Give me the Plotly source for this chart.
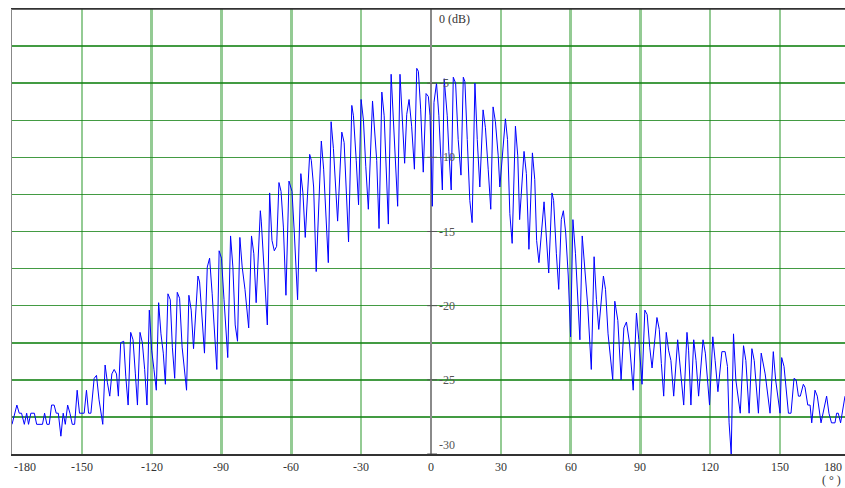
import plotly.graph_objects as go

# Angle (deg) and level (dB) (vertices)
angles = [
    -180.0, -177.9, -176.9, -175.9, -174.7, -173.7, -172.9, -171.9, -170.4, -169.4,
    -166.9, -166.0, -165.0, -164.0, -163.0, -161.9, -161.0, -160.1, -159.0, -158.0,
    -157.1, -156.1, -155.1, -154.1, -153.1, -152.0, -151.0, -149.0, -148.0, -147.1,
    -146.1, -144.7, -143.7, -142.6, -141.0, -140.0, -139.0, -138.0, -137.1, -136.1,
    -135.1, -134.3, -133.3, -132.0, -131.1, -130.1, -129.0, -128.0, -127.0, -126.1,
    -125.0, -124.0, -123.0, -122.0, -121.0, -120.0, -119.0, -118.0, -117.0, -116.0,
    -115.0, -114.1, -113.0, -112.0, -111.1, -110.1, -109.0, -108.0, -106.9, -105.0,
    -104.0, -103.0, -102.0, -100.1, -99.4, -98.3, -97.3, -96.1, -95.1, -94.0,
    -92.0, -91.0, -90.0, -88.9, -87.3, -86.1, -85.1, -84.1, -83.1, -82.1,
    -81.1, -79.9, -78.3, -77.1, -76.1, -75.1, -73.3, -72.9, -71.9, -70.3,
    -69.3, -68.3, -67.3, -66.3, -65.3, -64.4, -63.4, -62.3, -61.0, -59.7,
    -58.7, -57.3, -55.9, -55.0, -54.0, -52.1, -51.4, -50.4, -49.3, -47.1,
    -46.1, -45.1, -44.1, -42.9, -41.9, -40.1, -38.3, -37.3, -35.4, -34.0,
    -33.3, -32.1, -31.1, -30.0, -29.0, -28.0, -26.9, -25.1, -24.3, -23.3,
    -22.3, -21.1, -20.1, -19.3, -18.3, -17.1, -16.1, -15.1, -14.3, -13.3,
    -12.3, -11.3, -10.4, -9.4, -8.3, -7.1, -6.1, -5.4, -4.4, -3.3,
    -2.1, -1.1, -0.4, 0.6, 1.3, 2.4, 3.4, 4.9, 5.7, 7.0,
    7.7, 8.7, 9.6, 10.6, 11.7, 12.9, 13.9, 14.6, 15.6, 16.7,
    17.7, 18.9, 19.9, 21.0, 22.4, 23.4, 24.6, 25.7, 26.7, 27.7,
    28.9, 29.6, 32.0, 32.9, 33.9, 34.9, 36.3, 37.3, 38.1, 40.0,
    41.0, 42.1, 43.6, 44.6, 45.4, 46.4, 48.6, 49.6, 50.6, 52.0,
    52.7, 53.9, 54.9, 56.0, 56.9, 57.9, 59.0, 60.0, 61.0, 62.1,
    63.3, 64.0, 65.0, 66.1, 67.4, 68.9, 70.1, 71.1, 72.1, 74.1,
    75.0, 76.1, 78.1, 79.0, 80.3, 81.7, 82.9, 84.0, 85.3, 86.9,
    88.3, 89.3, 90.7, 91.9, 92.9, 94.0, 95.0, 97.1, 98.1, 99.0,
    100.0, 101.1, 102.1, 103.1, 104.3, 106.0, 107.1, 108.6, 110.0, 110.7,
    111.7, 112.9, 113.9, 115.0, 116.9, 117.9, 119.7, 121.1, 122.1, 123.3,
    125.0, 126.4, 127.4, 128.1, 129.0, 130.0, 131.0, 132.9, 134.3, 135.3,
    136.7, 137.9, 138.9, 140.7, 141.9, 143.6, 145.7, 147.1, 148.1, 150.0,
    150.7, 151.7, 153.6, 154.7, 156.0, 156.9, 157.9, 158.7, 160.0, 160.7,
    161.9, 162.9, 163.6, 165.0, 166.0, 167.6, 170.0, 171.0, 172.1, 173.6,
    174.3, 175.0, 176.0, 177.1, 177.9,
]
levels_db = [
    -28.0, -26.7, -27.25, -27.25, -28.0, -27.25, -28.0, -27.25, -27.25, -28.0,
    -28.0, -27.25, -28.0, -28.0, -26.7, -26.7, -27.25, -27.25, -28.8, -27.25,
    -28.0, -26.7, -27.25, -28.0, -28.0, -25.7, -27.25, -27.25, -25.7, -27.25,
    -27.25, -24.9, -24.7, -26.35, -28.0, -24.0, -25.2, -26.1, -24.6, -24.3,
    -24.6, -26.1, -22.5, -22.4, -24.8, -26.7, -21.8, -22.3, -24.6, -26.7,
    -21.8, -22.5, -24.3, -26.7, -20.3, -23.0, -24.3, -25.7, -19.8, -21.9,
    -23.2, -25.3, -19.2, -19.6, -22.8, -24.9, -19.1, -19.5, -22.8, -25.7,
    -19.3, -20.3, -22.9, -18.0, -18.4, -20.7, -23.2, -17.4, -16.8, -19.2,
    -24.3, -16.3, -16.8, -19.6, -23.5, -15.3, -17.4, -21.3, -22.4, -15.4,
    -17.4, -18.9, -21.5, -15.3, -16.5, -19.8, -13.6, -14.3, -16.9, -21.3,
    -12.4, -15.6, -16.3, -16.0, -11.7, -12.3, -14.7, -19.3, -11.6, -12.3,
    -15.1, -19.6, -11.1, -12.4, -15.4, -9.8, -10.2, -12.0, -17.7, -8.9,
    -10.8, -14.0, -17.1, -7.6, -9.4, -14.3, -8.3, -9.0, -15.7, -6.5,
    -7.2, -10.2, -13.2, -6.1, -7.5, -10.6, -13.5, -6.2, -8.1, -10.2,
    -14.8, -5.6, -7.2, -10.2, -14.5, -4.4, -7.9, -10.6, -13.3, -4.4,
    -7.9, -10.4, -7.1, -6.1, -7.9, -10.8, -4.0, -4.2, -6.8, -11.0,
    -5.7, -5.9, -7.2, -13.3, -6.3, -5.0, -7.2, -12.2, -4.7, -7.2,
    -9.6, -12.2, -4.6, -5.0, -8.8, -11.2, -4.6, -4.9, -8.8, -12.9,
    -14.4, -5.0, -8.8, -12.0, -6.8, -8.0, -10.8, -13.5, -6.6, -7.6,
    -9.9, -12.0, -7.4, -8.8, -13.8, -15.8, -7.9, -9.9, -14.2, -9.6,
    -11.1, -16.2, -9.7, -11.5, -15.6, -17.1, -13.0, -15.1, -17.8, -12.4,
    -12.9, -16.5, -18.9, -14.2, -13.6, -15.1, -18.0, -22.1, -14.2, -16.5,
    -20.3, -22.3, -15.3, -17.4, -20.1, -24.3, -16.7, -19.6, -21.6, -18.0,
    -18.9, -21.9, -25.0, -19.7, -21.0, -25.0, -21.5, -21.1, -22.5, -25.7,
    -20.5, -22.3, -25.3, -20.3, -20.6, -22.8, -24.2, -20.8, -21.6, -23.9,
    -26.1, -21.8, -23.0, -23.7, -26.1, -22.3, -24.1, -26.7, -21.8, -23.0,
    -26.7, -22.3, -23.7, -26.1, -22.3, -23.2, -26.7, -22.1, -23.7, -25.8,
    -23.1, -23.1, -24.1, -27.9, -30.0, -21.9, -25.0, -27.25, -22.7, -23.7,
    -27.25, -22.9, -23.7, -27.25, -23.2, -24.6, -27.25, -23.1, -25.0, -27.25,
    -23.5, -24.1, -27.25, -27.25, -24.9, -25.0, -26.1, -26.1, -25.3, -25.5,
    -26.7, -26.7, -27.9, -25.7, -26.1, -27.9, -26.1, -27.25, -27.9, -27.9,
    -27.25, -27.25, -27.9, -26.7, -26.1,
]

x_ticks = [-180, -150, -120, -90, -60, -30, 0, 30, 60, 90, 120, 150, 180]
y_ticks = [-5, -10, -15, -20, -25, -30]
x_min, x_max = -180.0, 177.9
y_min, y_max = -30.0, 0.0

FONT = "Liberation Serif, Times New Roman, serif"

fig = go.Figure()
fig.add_trace(go.Scatter(
    x=angles, y=levels_db, mode="lines",
    line=dict(color="#0000ff", width=1),
    hoverinfo="skip", showlegend=False,
))

fig.update_layout(
    width=845, height=488,
    margin=dict(l=12, r=0, t=9, b=34, autoexpand=False),
    paper_bgcolor="white", plot_bgcolor="white",
    showlegend=False,
    xaxis=dict(
        range=[x_min, x_max], tickmode="array", tickvals=x_ticks,
        showticklabels=False, ticks="",
        showgrid=True, gridcolor="rgba(60,160,60,0.55)", gridwidth=2.5,
        zeroline=True, zerolinecolor="#8a8a8a", zerolinewidth=2,
        showline=True, linecolor="#333333", linewidth=1.5, mirror=True,
        fixedrange=True, automargin=False,
    ),
    yaxis=dict(
        range=[y_min, y_max], dtick=2.5, tick0=0,
        showticklabels=False, ticks="",
        showgrid=True, gridcolor="rgba(20,130,20,0.8)", gridwidth=1.5,
        zeroline=False,
        showline=True, linecolor="#888888", linewidth=1.5, mirror=False,
        fixedrange=True, automargin=False,
    ),
)

# top border line (data space is clipped on the right)
fig.add_shape(type="line", xref="paper", yref="paper", x0=0, x1=1, y0=1, y1=1,
              line=dict(color="#333333", width=1.5))

annotations = []
for t in x_ticks:
    if t == -180:
        annotations.append(dict(x=t, y=0, xref="x", yref="paper", text="-180",
                                xanchor="left", yanchor="top", yshift=-4, showarrow=False))
    elif t == 180:
        annotations.append(dict(x=x_max, y=0, xref="x", yref="paper", text="180",
                                xanchor="right", yanchor="top", yshift=-4, xshift=-1,
                                showarrow=False))
    else:
        annotations.append(dict(x=t, y=0, xref="x", yref="paper", text=str(t),
                                xanchor="center", yanchor="top", yshift=-4, showarrow=False))
annotations.append(dict(x=x_max, y=0, xref="x", yref="paper", text="( ° )",
                        xanchor="right", yanchor="top", yshift=-17, xshift=-2, showarrow=False))
annotations.append(dict(x=0, y=y_max, xref="x", yref="y", text="0 (dB)",
                        xanchor="left", yanchor="top", xshift=6, yshift=-1, showarrow=False))
for t in y_ticks:
    yanc = "bottom" if t == -30 else "middle"
    annotations.append(dict(x=0, y=t, xref="x", yref="y", text=str(t),
                            xanchor="left", yanchor=yanc, xshift=6,
                            yshift=0, showarrow=False,
                            font=dict(color="#555555")))
    fig.add_shape(type="line", xref="x", yref="y", x0=-1.6, x1=2.6, y0=t, y1=t,
                  line=dict(color="#555555", width=1))

fig.update_layout(annotations=annotations,
                  font=dict(family=FONT, size=12, color="#333333"))

fig.write_html(
    "out.html",
    config={"displayModeBar": False, "staticPlot": True},
    post_script="document.body.style.margin='0';document.body.style.overflow='hidden';",
)
